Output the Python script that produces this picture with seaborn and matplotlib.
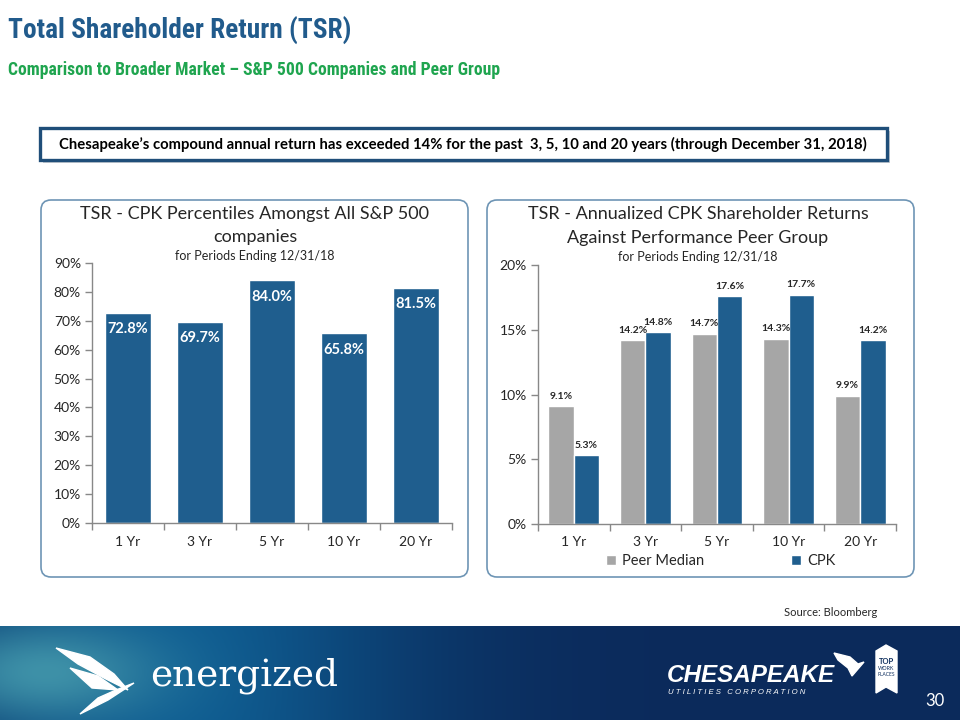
import os
import numpy as np
import pandas as pd
import matplotlib
matplotlib.use("Agg")
import matplotlib.pyplot as plt
import seaborn as sns
from matplotlib import font_manager
from matplotlib.font_manager import FontProperties
from matplotlib.patches import FancyBboxPatch, Rectangle, Polygon
from matplotlib.ticker import PercentFormatter

# data
periods = ["1 Yr", "3 Yr", "5 Yr", "10 Yr", "20 Yr"]
cpk_percentile = [0.728, 0.697, 0.840, 0.658, 0.815]
peer_median = [0.091, 0.142, 0.147, 0.143, 0.099]
cpk_return = [0.053, 0.148, 0.176, 0.177, 0.142]
series_names = ["Peer Median", "CPK"]

BLUE = "#1F5E8E"
GRAY = "#A6A6A6"
TITLE_BLUE = "#215B8C"
GREEN = "#1FA54F"
AXIS_GRAY = "#888888"

sns.set_theme(style="ticks")
plt.rcParams["font.family"] = ["Lato", "DejaVu Sans"]

# look for a narrow bold sans for the slide headings (Arial Narrow look)
wanted = ["LiberationSansNarrow-Bold", "ArialNarrowBold", "Arial Narrow Bold", "RobotoCondensed-Bold",
          "NotoSans-CondensedBold", "OpenSans-CondensedBold", "OpenSansCondensed-Bold",
          "DejaVuSansCondensed-Bold"]
files = [f.fname for f in font_manager.fontManager.ttflist]
head_file = None
for w in wanted:
    hits = [p for p in files if os.path.splitext(os.path.basename(p))[0] == w]
    if hits:
        head_file = hits[0]
        break
if head_file:
    head_font = lambda size: FontProperties(fname=head_file, size=size)
else:
    head_font = lambda size: FontProperties(family=["Liberation Sans", "DejaVu Sans"], weight="bold", size=size)

fig = plt.figure(figsize=(9.6, 7.2), dpi=100)
fig.patch.set_facecolor("white")
renderer = fig.canvas.get_renderer()

# background layer in pixel coords
bg = fig.add_axes([0, 0, 1, 1], zorder=0)
bg.set_xlim(0, 960)
bg.set_ylim(720, 0)
bg.axis("off")

# footer band gradient
xx, yy = np.meshgrid(np.linspace(0, 960, 480), np.linspace(626, 720, 60))
navy = np.array([11, 42, 91]) / 255
mid = np.array([14, 92, 145]) / 255
teal = np.array([62, 145, 168]) / 255
band = np.exp(-((xx - 170) / 240) ** 2)
glow = np.exp(-((xx - 45) / 115) ** 2 - ((yy - 672) / 50) ** 2)
img = navy + (mid - navy) * band[..., None]
img = img + (teal - img) * glow[..., None]
bg.imshow(np.clip(img, 0, 1), extent=(0, 960, 720, 626), aspect="auto", zorder=0)


def fit_text(x, y, s, target_w, max_size, **kw):
    t = bg.text(x, y, s, fontproperties=head_font(max_size), va="center", **kw)
    w = t.get_window_extent(renderer).width
    size = min(max_size, max_size * target_w / w)
    t.set_fontproperties(head_font(size))
    return t


# titles
fit_text(8, 31, "Total Shareholder Return (TSR)", 345, 27, color=TITLE_BLUE)
fit_text(8, 70, "Comparison to Broader Market \u2013 S&P 500 Companies and Peer Group", 490, 17, color=GREEN)

# banner box
bg.add_patch(Rectangle((43, 131), 847, 32, facecolor="#C8CDD3", edgecolor="none", zorder=1))
bg.add_patch(Rectangle((40, 128), 847, 32, facecolor="white", edgecolor="#1F4E79", lw=2.4, zorder=2))
bg.text(463, 144, "Chesapeake\u2019s compound annual return has exceeded 14% for the past  3, 5, 10 and 20 years (through December 31, 2018)",
        fontsize=10.7, fontweight="bold", ha="center", va="center", color="black", zorder=3)

# panels
for x0 in (41, 487):
    bg.add_patch(FancyBboxPatch((x0, 200), 427, 377, boxstyle="round,pad=0,rounding_size=10",
                                facecolor="white", edgecolor="#6E95B5", lw=1.2, zorder=1))

# panel titles
bg.text(255, 214, "TSR - CPK Percentiles Amongst All S&P 500", fontsize=13, ha="center", va="center", zorder=3)
bg.text(255, 237, "companies", fontsize=13, ha="center", va="center", zorder=3)
bg.text(255, 256, "for Periods Ending 12/31/18", fontsize=9, ha="center", va="center", zorder=3)
bg.text(698, 214, "TSR - Annualized CPK Shareholder Returns", fontsize=13, ha="center", va="center", zorder=3)
bg.text(698, 238, "Against Performance Peer Group", fontsize=13, ha="center", va="center", zorder=3)
bg.text(698, 257, "for Periods Ending 12/31/18", fontsize=9, ha="center", va="center", zorder=3)

bg.text(877, 613, "Source: Bloomberg", fontsize=8, ha="right", va="center", zorder=3)


def style_axes(ax):
    sns.despine(ax=ax)
    ax.set_facecolor("none")
    for s in ("left", "bottom"):
        ax.spines[s].set_color(AXIS_GRAY)
        ax.spines[s].set_linewidth(1)
    ax.set_xlim(-0.5, 4.5)
    ax.set_xticks(np.arange(-0.5, 5, 1), minor=True)
    ax.tick_params(axis="x", which="major", length=0, pad=9, labelsize=10)
    ax.tick_params(axis="x", which="minor", bottom=True, length=5, color=AXIS_GRAY, width=1)
    ax.tick_params(axis="y", length=5, color=AXIS_GRAY, width=1, labelsize=10, pad=3)
    ax.set_xlabel("")
    ax.set_ylabel("")


# left chart
ax1 = fig.add_axes([92 / 960, 1 - 523 / 720, 360 / 960, 260 / 720], zorder=2)
sns.barplot(x=periods, y=cpk_percentile, color=BLUE, saturation=1, width=0.65, ax=ax1)
ax1.set_ylim(0, 0.9)
ax1.set_yticks(np.arange(0, 0.91, 0.1))
ax1.yaxis.set_major_formatter(PercentFormatter(1.0, decimals=0))
style_axes(ax1)
ax1.bar_label(ax1.containers[0], labels=[f"{v * 100:.1f}%" for v in cpk_percentile],
              padding=-17, color="white", fontweight="bold", fontsize=10.5)

# right chart
df = pd.DataFrame({
    "period": periods * 2,
    "value": peer_median + cpk_return,
    "series": [series_names[0]] * len(periods) + [series_names[1]] * len(periods),
})
ax2 = fig.add_axes([538 / 960, 1 - 524 / 720, 358 / 960, 259 / 720], zorder=2)
sns.barplot(data=df, x="period", y="value", hue="series", palette=[GRAY, BLUE],
            saturation=1, width=0.71, gap=0, ax=ax2)
ax2.set_ylim(0, 0.2)
ax2.set_yticks(np.arange(0, 0.201, 0.05))
ax2.yaxis.set_major_formatter(PercentFormatter(1.0, decimals=0))
style_axes(ax2)
for cont, vals in zip(ax2.containers, [peer_median, cpk_return]):
    ax2.bar_label(cont, labels=[f"{v * 100:.1f}%" for v in vals], padding=4,
                  fontsize=7.5, fontweight="bold")
ax2.legend(loc="center", bbox_to_anchor=(0.51, -0.143), ncol=2, frameon=False,
           handlelength=0.7, handleheight=0.7, handletextpad=0.4, columnspacing=6, fontsize=10.5)

# footer branding
bg.add_patch(Polygon([(56, 648), (90, 657), (114, 674), (128, 690), (104, 678), (78, 664)],
                     color="white", zorder=2))
bg.add_patch(Polygon([(70, 668), (98, 676), (118, 690), (92, 688)], color="white", zorder=2))
bg.add_patch(Polygon([(116, 690), (134, 683), (108, 700), (80, 714), (98, 698)], color="white", zorder=2))
bg.text(150, 676, "energized", fontsize=27, color="white", family=["DejaVu Serif"],
        va="center", ha="left", zorder=3)

bg.add_patch(Polygon([(834, 653), (850, 657), (858, 664), (864, 662), (852, 676), (848, 668), (838, 660)],
                     color="white", zorder=2))
bg.text(667, 676, "CHESAPEAKE", fontsize=17.5, color="white", fontweight="bold", style="italic",
        family=["Liberation Sans", "DejaVu Sans"], va="center", ha="left", zorder=3)
bg.text(668, 692, "U T I L I T I E S   C O R P O R A T I O N", fontsize=5.6, color="white",
        family=["Liberation Sans", "DejaVu Sans"], style="italic", va="center", ha="left", zorder=3)
bg.add_patch(Polygon([(876, 651), (886, 645), (897, 651), (897, 693), (886, 687), (876, 693)],
                     color="white", zorder=2))
bg.text(886.5, 661, "TOP", fontsize=5.5, fontweight="bold", color="#0B2C5C", ha="center", va="center", zorder=3)
bg.text(886.5, 669, "WORK", fontsize=3.8, color="#0B2C5C", ha="center", va="center", zorder=3)
bg.text(886.5, 675, "PLACES", fontsize=3.5, color="#0B2C5C", ha="center", va="center", zorder=3)
bg.text(935, 701, "30", fontsize=12, color="white", ha="center", va="center", zorder=3)

fig.savefig("out.png", dpi=100)
